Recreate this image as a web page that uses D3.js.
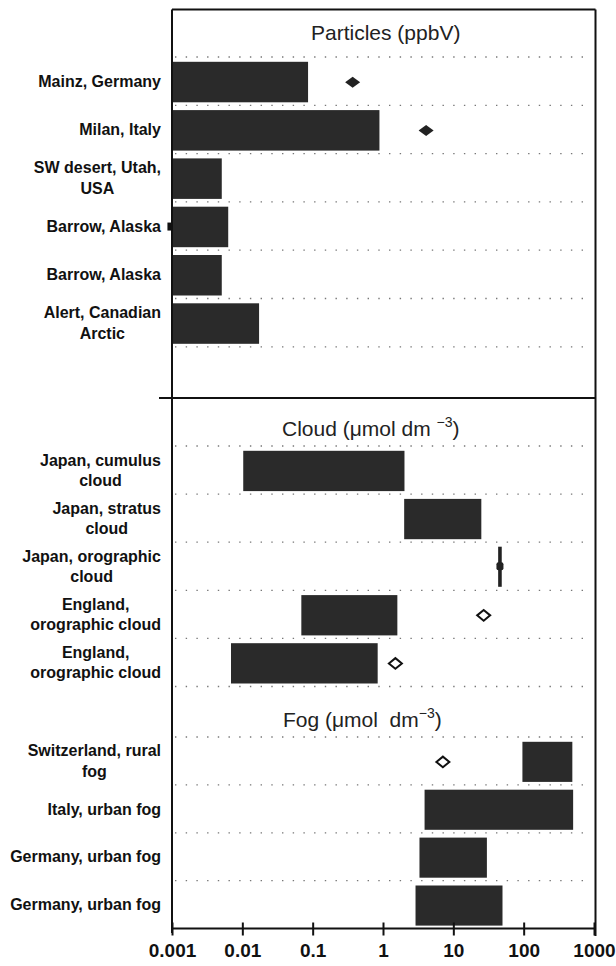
<!DOCTYPE html>
<html>
<head>
<style>
  body { margin: 0; background: #fff; }
  text { font-family: "Liberation Sans", Arial, sans-serif; }
</style>
<script src="https://d3js.org/d3.v7.min.js"></script>
</head>
<body>
<script>
// ---- data ----
const particleLabels = ["Mainz, Germany", "Milan, Italy", "SW desert, Utah,|USA", "Barrow, Alaska", "Barrow, Alaska", "Alert, Canadian|Arctic"];
const particleLow  = [0.001, 0.001, 0.001, 0.001, 0.001, 0.001];
const particleHigh = [0.086, 0.89, 0.0051, 0.0063, 0.0051, 0.0173];
const particleMark = [0.37, 4.1, null, 0.00095, null, null];
const particleMarkType = ["filled", "filled", null, "edge", null, null];

const cloudLabels = ["Japan, cumulus|cloud", "Japan, stratus|cloud", "Japan, orographic|cloud", "England,|orographic cloud", "England,|orographic cloud"];
const cloudLow  = [0.0103, 2.0, null, 0.069, 0.0069];
const cloudHigh = [2.02, 25, null, 1.6, 0.84];
const cloudMark = [null, null, 46, 27, 1.5];
const cloudMarkType = [null, null, "line", "open", "open"];

const fogLabels = ["Switzerland, rural|fog", "Italy, urban fog", "Germany, urban fog", "Germany, urban fog"];
const fogLow  = [96, 3.9, 3.3, 2.9];
const fogHigh = [492, 505, 30, 50];
const fogMark = [7.1, null, null, null];
const fogMarkType = ["open", null, null, null];

const tickValues = [0.001, 0.01, 0.1, 1, 10, 100, 1000];
const tickLabels = ["0.001", "0.01", "0.1", "1", "10", "100", "1000"];

// ---- layout ----
const w = 616, h = 966;
const frameL = 172, frameR = 595.5, frameT = 9.5, axisY = 928.5;
const labelRight = 161;

const svg = d3.select("body").append("svg")
    .attr("width", w)
    .attr("height", h);

const x = d3.scaleLog().domain([0.001, 1000]).range([172, 594]);

const panels = [
  { labels: particleLabels, low: particleLow, high: particleHigh, mark: particleMark, type: particleMarkType,
    y0: 57, step: 48.3, lines: 7,
    title: [["Particles (ppbV)", 0]], tx: 311, ty: 40 },
  { labels: cloudLabels, low: cloudLow, high: cloudHigh, mark: cloudMark, type: cloudMarkType,
    y0: 446, step: 48.1, lines: 6,
    title: [["Cloud (\u03bcmol dm ", 0], ["\u22123", -9], [")", 9]], tx: 282, ty: 436 },
  { labels: fogLabels, low: fogLow, high: fogHigh, mark: fogMark, type: fogMarkType,
    y0: 737, step: 47.9, lines: 4,
    title: [["Fog (\u03bcmol  dm", 0], ["\u22123", -9], [")", 9]], tx: 283, ty: 726.5 }
];

panels.forEach(p => {
  const n = p.labels.length;
  const y = d3.scaleBand().domain(d3.range(n)).range([p.y0, p.y0 + n * p.step]).paddingInner(0);
  const g = svg.append("g");

  // dotted grid lines at row boundaries
  g.selectAll("line.grid")
    .data(d3.range(p.lines))
    .enter().append("line")
    .attr("class", "grid")
    .attr("x1", 175).attr("x2", 591)
    .attr("y1", i => p.y0 + i * p.step)
    .attr("y2", i => p.y0 + i * p.step)
    .attr("stroke", "#777")
    .attr("stroke-width", 1.3)
    .attr("stroke-dasharray", "1.4,9.3");

  // title
  const t = g.append("text")
    .attr("x", p.tx).attr("y", p.ty)
    .style("font-size", "21px")
    .style("white-space", "pre")
    .attr("fill", "#222");
  p.title.forEach(s => {
    t.append("tspan")
      .attr("dy", s[1])
      .style("font-size", s[1] < 0 ? "14px" : "21px")
      .text(s[0]);
  });

  // bars
  const rows = d3.range(n);
  g.selectAll("rect.bar")
    .data(rows.filter(i => p.low[i] != null))
    .enter().append("rect")
    .attr("class", "bar")
    .attr("x", i => x(p.low[i]) + (p.low[i] <= 0.001 ? 1 : 0))
    .attr("width", i => x(p.high[i]) - x(p.low[i]) - (p.low[i] <= 0.001 ? 1 : 0))
    .attr("y", i => y(i) + 4.8)
    .attr("height", p.step - 7.8)
    .attr("fill", "#2a2a2a");

  // markers
  rows.filter(i => p.mark[i] != null).forEach(i => {
    const cx = x(p.mark[i]);
    const cy = y(i) + p.step / 2 + 1;
    const tp = p.type[i];
    if (tp === "filled") {
      g.append("path")
        .attr("d", `M${cx - 7.5},${cy} L${cx},${cy - 5.5} L${cx + 7.5},${cy} L${cx},${cy + 5.5} Z`)
        .attr("fill", "#222");
    } else if (tp === "open") {
      g.append("path")
        .attr("d", `M${cx - 6.5},${cy} L${cx},${cy - 5.3} L${cx + 6.5},${cy} L${cx},${cy + 5.3} Z`)
        .attr("fill", "#fff")
        .attr("stroke", "#111")
        .attr("stroke-width", 2);
    } else if (tp === "line") {
      g.append("rect")
        .attr("x", cx - 1.8).attr("width", 3.6)
        .attr("y", y(i) + 4.5).attr("height", p.step - 8)
        .attr("fill", "#222");
      g.append("rect")
        .attr("x", cx - 3.5).attr("width", 7)
        .attr("y", y(i) + 20).attr("height", 8)
        .attr("rx", 2)
        .attr("fill", "#222");
    } else if (tp === "edge") {
      g.append("rect")
        .attr("x", cx - 3).attr("width", 5)
        .attr("y", cy - 4.5).attr("height", 8)
        .attr("fill", "#111");
    }
  });

  // row labels, centred lines, block right-aligned
  rows.forEach(i => {
    const lines = p.labels[i].split("|");
    const cy = y(i) + p.step / 2;
    const lt = g.append("text")
      .attr("text-anchor", "middle")
      .style("font-size", "16px")
      .style("font-weight", "bold")
      .attr("fill", "#111");
    lines.forEach((s, k) => {
      lt.append("tspan")
        .attr("x", 0)
        .attr("y", cy - (lines.length - 1) * 20.5 / 2 + 5.7 + k * 20.5)
        .text(s);
    });
    const bw = lt.node().getBBox().width;
    lt.attr("transform", `translate(${labelRight - bw / 2},0)`);
  });
});

// frame
const frame = [
  [frameL, frameT, frameR, frameT],
  [frameR, frameT, frameR, 936],
  [frameL, frameT, frameL, 933],
  [159, 398, frameR, 398]
];
svg.selectAll("line.frame")
  .data(frame)
  .enter().append("line")
  .attr("class", "frame")
  .attr("x1", d => d[0]).attr("y1", d => d[1])
  .attr("x2", d => d[2]).attr("y2", d => d[3])
  .attr("stroke", "#111")
  .attr("stroke-width", 2);

// bottom axis
const axis = d3.axisBottom(x)
  .tickValues(tickValues)
  .tickFormat((d, i) => tickLabels[i])
  .tickSizeOuter(0);

const ax = svg.append("g")
  .attr("transform", `translate(0,${axisY})`)
  .call(axis);

ax.select(".domain")
  .attr("d", `M${frameL - 1},0H${frameR}`)
  .attr("stroke", "#111")
  .attr("stroke-width", 2);
ax.selectAll(".tick line")
  .attr("y1", -6).attr("y2", 7)
  .attr("stroke", "#111")
  .attr("stroke-width", 2);
ax.selectAll(".tick text")
  .attr("y", 28.5).attr("dy", 0)
  .attr("fill", "#111")
  .style("font-family", "'Liberation Sans', Arial, sans-serif")
  .style("font-size", "19px")
  .style("font-weight", "bold");
</script>
</body>
</html>
